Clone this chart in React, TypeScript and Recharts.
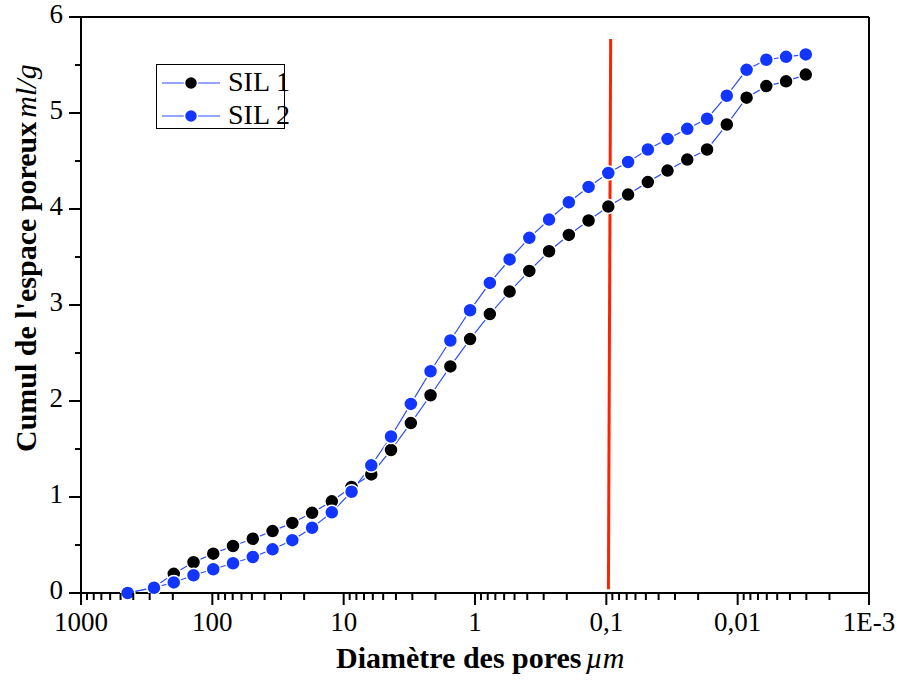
import { LineChart, Line, XAxis, YAxis, ReferenceLine, Legend, Label } from "recharts";

// diamètre des pores (µm) and cumulated pore volume (ml/g)
const diametre = [
  441, 278, 196.6, 139.1, 98.4, 69.6, 49.2, 34.8, 24.6, 17.4, 12.31, 8.71, 6.16, 4.36, 3.08, 2.18, 1.54, 1.09,
  0.771, 0.545, 0.386, 0.273, 0.193, 0.1365, 0.0966, 0.0683, 0.0483, 0.0342, 0.0242, 0.0171, 0.0121, 0.00855,
  0.00605, 0.00428, 0.00303,
];
const sil1 = [
  0, 0.06, 0.2, 0.32, 0.41, 0.49, 0.565, 0.645, 0.73, 0.835, 0.955, 1.105, 1.235, 1.49, 1.77, 2.06, 2.36, 2.645,
  2.905, 3.14, 3.355, 3.56, 3.73, 3.88, 4.025, 4.15, 4.28, 4.4, 4.515, 4.62, 4.88, 5.16, 5.28, 5.33, 5.4,
];
const sil2 = [
  0, 0.055, 0.11, 0.185, 0.247, 0.31, 0.375, 0.455, 0.55, 0.68, 0.84, 1.055, 1.33, 1.63, 1.97, 2.31, 2.63, 2.945,
  3.23, 3.475, 3.7, 3.89, 4.07, 4.23, 4.375, 4.49, 4.62, 4.73, 4.835, 4.94, 5.18, 5.45, 5.555, 5.585, 5.61,
];
const seriesNames = ["SIL 1", "SIL 2"];

const xMajor = [1000, 100, 10, 1, 0.1, 0.01, 0.001];
const xLabels = ["1000", "100", "10", "1", "0,1", "0,01", "1E-3"];
const xMinorMult = [2, 3, 4, 5, 6, 7, 8, 9];
const yTicks = [0, 0.5, 1, 1.5, 2, 2.5, 3, 3.5, 4, 4.5, 5, 5.5, 6];

// hand-drawn red marker near 0,1 µm
const redLine = [
  { x: 0.0964, y: 0.04 },
  { x: 0.0927, y: 5.77 },
];

const font = "'Liberation Serif', 'Times New Roman', serif";
const lineBlue = "#2d4cff";
const dotBlue = "#1236ff";

const data = diametre.map((d, i) => ({ d, sil1: sil1[i], sil2: sil2[i] }));
const xTicks = [
  ...xMajor,
  ...xMajor.slice(1).flatMap((m) => xMinorMult.map((k) => m * k)),
];

const XTick = (props: any) => {
  const { x, y, payload } = props;
  const idx = xMajor.indexOf(payload.value);
  const major = idx >= 0;
  return (
    <g>
      <line x1={x} x2={x} y1={y} y2={y + (major ? 12 : 7)} stroke="#000" strokeWidth={2} />
      {major && (
        <text x={x} y={y + 38} textAnchor="middle" fontSize={27} fontFamily={font} fill="#000">
          {xLabels[idx]}
        </text>
      )}
    </g>
  );
};

const YTick = (props: any) => {
  const { x, y, payload } = props;
  const major = Number.isInteger(payload.value);
  return (
    <g>
      <line x1={x} x2={x - (major ? 12 : 6)} y1={y} y2={y} stroke="#000" strokeWidth={2} />
      {major && (
        <text x={x - 18} y={y + 6} textAnchor="end" fontSize={27} fontFamily={font} fill="#000">
          {payload.value}
        </text>
      )}
    </g>
  );
};

const renderLegend = () => (
  <div style={{ position: "relative", width: "100%", height: "100%" }}>
    {seriesNames.map((name, i) => (
      <div key={name} style={{ position: "absolute", left: 0, top: i === 0 ? 3 : 36, height: 30, width: 160 }}>
        <svg width={70} height={30} style={{ position: "absolute", left: 0, top: 0 }}>
          <line x1={5} x2={63} y1={15} y2={15} stroke={lineBlue} strokeWidth={1.2} />
          <circle cx={34} cy={15} r={6.5} fill={i === 0 ? "#000" : dotBlue} stroke="#fff" strokeWidth={1.5} />
        </svg>
        <span
          style={{
            position: "absolute",
            left: 71,
            top: -2,
            fontFamily: font,
            fontSize: 28,
            lineHeight: "32px",
            whiteSpace: "nowrap",
            color: "#000",
          }}
        >
          {name}
        </span>
      </div>
    ))}
  </div>
);

const YTitle = () => (
  <text transform="translate(36,452) rotate(-90)" fontFamily={font} fontSize={30} fontWeight="bold" fill="#000">
    Cumul de l'espace poreux
    <tspan fontStyle="italic" fontWeight="normal" dx={4}>
      ml/g
    </tspan>
  </text>
);

const XTitle = () => (
  <text x={336} y={668} fontFamily={font} fontSize={30} fontWeight="bold" fill="#000">
    Diamètre des pores
    <tspan fontStyle="italic" fontWeight="normal" dx={4}>
      µm
    </tspan>
  </text>
);

export default function App() {
  return (
    <div style={{ position: "absolute", left: 0, top: 0, width: 901, height: 689, background: "#fff" }}>
      <LineChart width={901} height={689} data={data} margin={{ top: 17, right: 32, bottom: 0, left: 0 }}>
        <XAxis
          dataKey="d"
          type="number"
          scale="log"
          domain={[0.001, 1000]}
          reversed
          allowDataOverflow
          ticks={xTicks}
          interval={0}
          tick={<XTick />}
          tickLine={false}
          tickSize={0}
          tickMargin={0}
          height={96}
          axisLine={{ stroke: "#000", strokeWidth: 2 }}
        >
          <Label content={<XTitle />} />
        </XAxis>
        <YAxis
          type="number"
          domain={[0, 6]}
          ticks={yTicks}
          interval={0}
          tick={<YTick />}
          tickLine={false}
          tickSize={0}
          tickMargin={0}
          width={81}
          axisLine={{ stroke: "#000", strokeWidth: 2 }}
        >
          <Label content={<YTitle />} />
        </YAxis>
        <ReferenceLine y={6} stroke="#000" strokeWidth={2} />
        <ReferenceLine x={0.001} stroke="#000" strokeWidth={2} />
        <ReferenceLine segment={redLine} stroke="#ff2200" strokeWidth={3} />
        <Legend
          layout="horizontal"
          verticalAlign="middle"
          align="center"
          content={renderLegend}
          wrapperStyle={{
            position: "absolute",
            left: 156,
            top: 64,
            width: 129,
            height: 65,
            border: "1.5px solid #000",
            boxSizing: "border-box",
            background: "#fff",
          }}
        />
        <Line
          dataKey="sil1"
          name="SIL 1"
          stroke={lineBlue}
          strokeWidth={1.2}
          dot={{ r: 7, fill: "#000", stroke: "#fff", strokeWidth: 1.5 }}
          isAnimationActive={false}
        />
        <Line
          dataKey="sil2"
          name="SIL 2"
          stroke={lineBlue}
          strokeWidth={1.2}
          dot={{ r: 7, fill: dotBlue, stroke: "#fff", strokeWidth: 1.5 }}
          isAnimationActive={false}
        />
      </LineChart>
    </div>
  );
}
